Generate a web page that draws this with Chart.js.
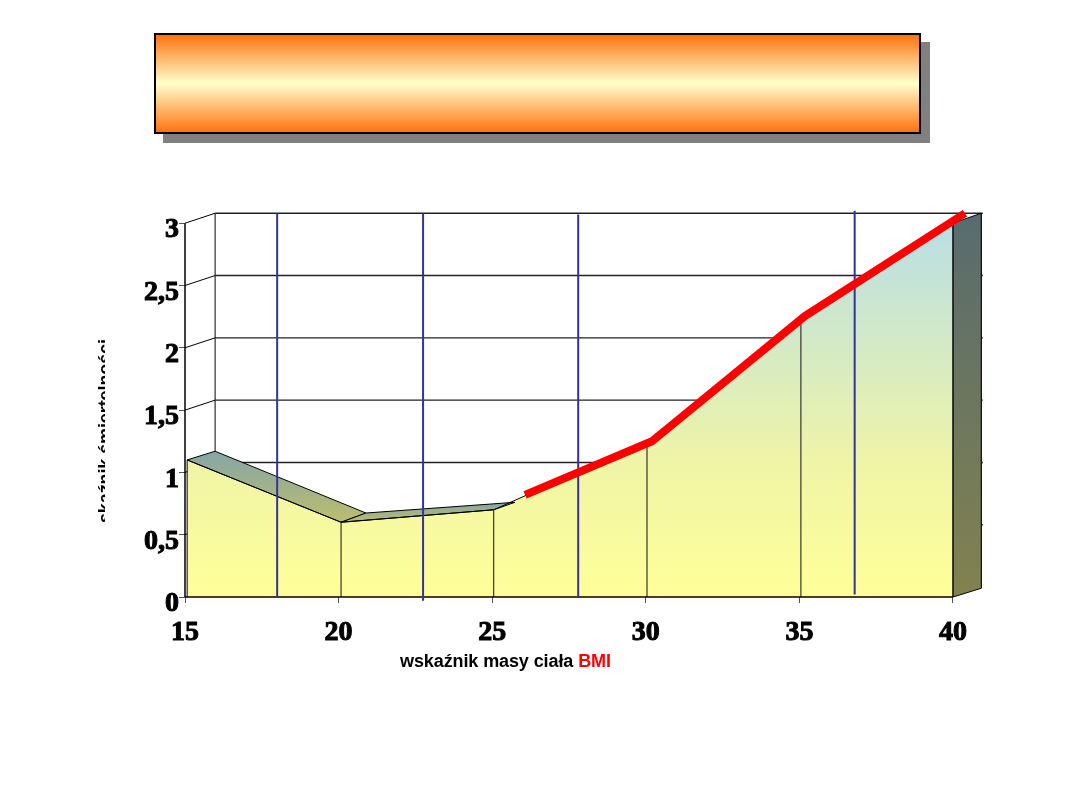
<!DOCTYPE html>
<html>
<head>
<meta charset="utf-8">
<script src="https://cdn.jsdelivr.net/npm/chart.js@4"></script>
<style>
  html, body { margin: 0; padding: 0; background: #fff; }
  #page { position: relative; width: 1080px; height: 810px; overflow: hidden; }
  #chart { position: absolute; left: 0; top: 0; }
  #shadow { position: absolute; left: 163px; top: 42px; width: 767px; height: 101px; background: #808080; }
  #banner {
    position: absolute; left: 154px; top: 33px; width: 763px; height: 97px;
    border: 2px solid #000;
    background: linear-gradient(#ff7310 0%, #ffffcc 50%, #ff7310 100%);
  }
  #xtitle {
    position: absolute; left: 400px; top: 651px; white-space: nowrap;
    font: bold 18px "Liberation Sans", sans-serif; letter-spacing: -0.1px; color: #000;
  }
  #xtitle span { color: #ff0000; }
  #ytitle-clip { position: absolute; left: 96px; top: 325px; width: 9px; height: 198px; overflow: hidden; }
  #ytitle {
    position: absolute; left: 0; top: 212px; white-space: nowrap;
    transform-origin: left top; transform: rotate(-90deg);
    font: bold 18px "Liberation Sans", sans-serif; letter-spacing: -0.1px; line-height: 18px; color: #000;
  }
</style>
</head>
<body>
<div id="page">
  <canvas id="chart" width="1080" height="810"></canvas>
  <div id="shadow"></div>
  <div id="banner"></div>
  <div id="ytitle-clip"><div id="ytitle">wskaźnik śmiertelności</div></div>
  <div id="xtitle">wskaźnik masy ciała <span>BMI</span></div>
</div>
<script>
// values
var bmiTicks = [15, 20, 25, 30, 35, 40]
var riskTicks = [0, 0.5, 1, 1.5, 2, 2.5, 3]
var areaBmi = [15.07, 20.08, 25.05, 30.04, 35.05, 40]
var areaRisk = [1.1, 0.6, 0.7, 1.25, 2.22, 3.0]
var ribbonBackBmi = [15.98, 20.89, 25.74]
var ribbonBackRisk = [1.17, 0.674, 0.76]
var redBmi = [26.07, 30.2, 35.18, 40.39]
var redRisk = [0.82, 1.25, 2.255, 3.08]
var blueBmi = [18, 22.75, 27.8, 36.8]
var blueTop = [3.08, 3.08, 3.07, 3.1]
var blueBottom = [0, -0.03, 0, 0.02]

// the fake 3D depth, in axis units
var depthY = 0.08
var wallLeft = 15.98
var wallRight = 40.92
var wallTop = 3.08

var datasets = []

function pts(xs, ys) {
  return xs.map(function(x, i) { return {x: x, y: ys[i]} })
}

function addLine(xs, ys, color, width, order, extra) {
  datasets.push(Object.assign({
    data: pts(xs, ys),
    borderColor: color,
    borderWidth: width,
    pointRadius: 0,
    tension: 0,
    fill: false,
    clip: false,
    order: order,
  }, extra || {}))
}

// back wall
riskTicks.forEach(function(v) {
  if (v === 0) return
  addLine([wallLeft, wallRight + 0.05], [v + depthY, v + depthY], "#222", 1.4, 20)
  addLine([15, wallLeft], [v, v + depthY], "#000", 1, 20)
})
addLine([wallLeft, wallLeft], [1.16, wallTop], "#000", 1, 20)
addLine([wallRight, wallRight], [0.07, wallTop], "#444", 1.5, 20)

// front of the area, the faces are painted just before it
addLine(areaBmi, areaRisk, "#000", 1, 10, {
  label: "area",
  fill: "origin",
  backgroundColor: function(ctx) {
    var area = ctx.chart.chartArea
    var y = ctx.chart.scales.y
    if (!area) return "#ffff99"
    var g = ctx.chart.ctx.createLinearGradient(0, y.getPixelForValue(3), 0, y.getPixelForValue(0))
    g.addColorStop(0, "#b8dee6")
    g.addColorStop(0.65, "#f0f5a6")
    g.addColorStop(1, "#ffff99")
    return g
  },
})

// thin drop lines inside the area
for (var i = 1; i < areaBmi.length; i++) {
  addLine([areaBmi[i], areaBmi[i]], [0, areaRisk[i]], "#111", 1, 8)
}
addLine([areaBmi[0], areaBmi[0]], [0, areaRisk[0]], "#000", 1, 8)

// axis lines
addLine([15, 15], [0, 3], "#000", 1.5, 7)
addLine([15, 40], [0, 0], "#000", 1.5, 7)

// hand drawn blue lines
blueBmi.forEach(function(x, i) {
  addLine([x, x], [blueBottom[i], blueTop[i]], "#333399", 2, 5)
})

// red line on top
addLine(redBmi, redRisk, "#ff0000", 8, 1, {borderCapStyle: "butt", borderJoinStyle: "miter"})

function paintFace(chart, xs, ys, top, bottom) {
  var c = chart.ctx
  var sx = chart.scales.x
  var sy = chart.scales.y
  var px = xs.map(function(v) { return sx.getPixelForValue(v) })
  var py = ys.map(function(v) { return sy.getPixelForValue(v) })
  var g = c.createLinearGradient(0, Math.min.apply(null, py), 0, Math.max.apply(null, py))
  g.addColorStop(0, top)
  g.addColorStop(1, bottom)
  c.save()
  c.beginPath()
  px.forEach(function(x, i) {
    if (i === 0) c.moveTo(x, py[i])
    else c.lineTo(x, py[i])
  })
  c.closePath()
  c.fillStyle = g
  c.fill()
  c.strokeStyle = "#000"
  c.lineWidth = 1
  c.stroke()
  c.restore()
}

var facesPlugin = {
  id: "faces",
  beforeDatasetDraw: function(chart, args) {
    if (chart.data.datasets[args.index].label !== "area") return
    // top ribbons of the two falling / flat segments
    for (var i = 0; i < 2; i++) {
      paintFace(chart,
        [areaBmi[i], ribbonBackBmi[i], ribbonBackBmi[i + 1], areaBmi[i + 1]],
        [areaRisk[i], ribbonBackRisk[i], ribbonBackRisk[i + 1], areaRisk[i + 1]],
        "#84a6a8", "#bdbd6c")
    }
    // right side
    var last = areaBmi.length - 1
    paintFace(chart,
      [areaBmi[last], wallRight, wallRight, areaBmi[last]],
      [areaRisk[last], areaRisk[last] + depthY, depthY - 0.01, 0],
      "#586b6e", "#828250")
  },
}

function tickOptions() {
  return {
    color: "#000",
    textStrokeColor: "#000",
    textStrokeWidth: 1,
    font: {family: "Liberation Serif", size: 28, weight: "bold", lineHeight: 0.5},
    autoSkip: false,
    maxRotation: 0,
  }
}

var yTicks = tickOptions()
yTicks.padding = 0
// the blank first line pushes the label a little below its tick, as in the original
yTicks.callback = function(v) { return ["", String(v).replace(".", ",")] }

var xTicks = tickOptions()
xTicks.font = {family: "Liberation Serif", size: 28, weight: "bold"}
xTicks.padding = 13
xTicks.callback = function(v) { return String(v) }

new Chart(document.getElementById("chart"), {
  type: "line",
  plugins: [facesPlugin],
  data: {datasets: datasets},
  options: {
    responsive: false,
    animation: false,
    layout: {padding: {left: 0, top: 213, right: 96, bottom: 0}},
    plugins: {legend: {display: false}, tooltip: {enabled: false}, title: {display: false}},
    scales: {
      x: {
        type: "linear",
        min: 15,
        max: 41.01,
        border: {display: false},
        grid: {drawOnChartArea: false, tickLength: 6, color: "#555"},
        ticks: xTicks,
        afterBuildTicks: function(s) { s.ticks = bmiTicks.map(function(v) { return {value: v} }) },
        afterFit: function(s) { s.height = 213 },
      },
      y: {
        type: "linear",
        min: 0,
        max: 3.082,
        border: {display: false},
        grid: {drawOnChartArea: false, tickLength: 6, color: "#555"},
        ticks: yTicks,
        afterBuildTicks: function(s) { s.ticks = riskTicks.map(function(v) { return {value: v} }) },
        afterFit: function(s) { s.width = 185 },
      },
    },
  },
})
</script>
</body>
</html>
